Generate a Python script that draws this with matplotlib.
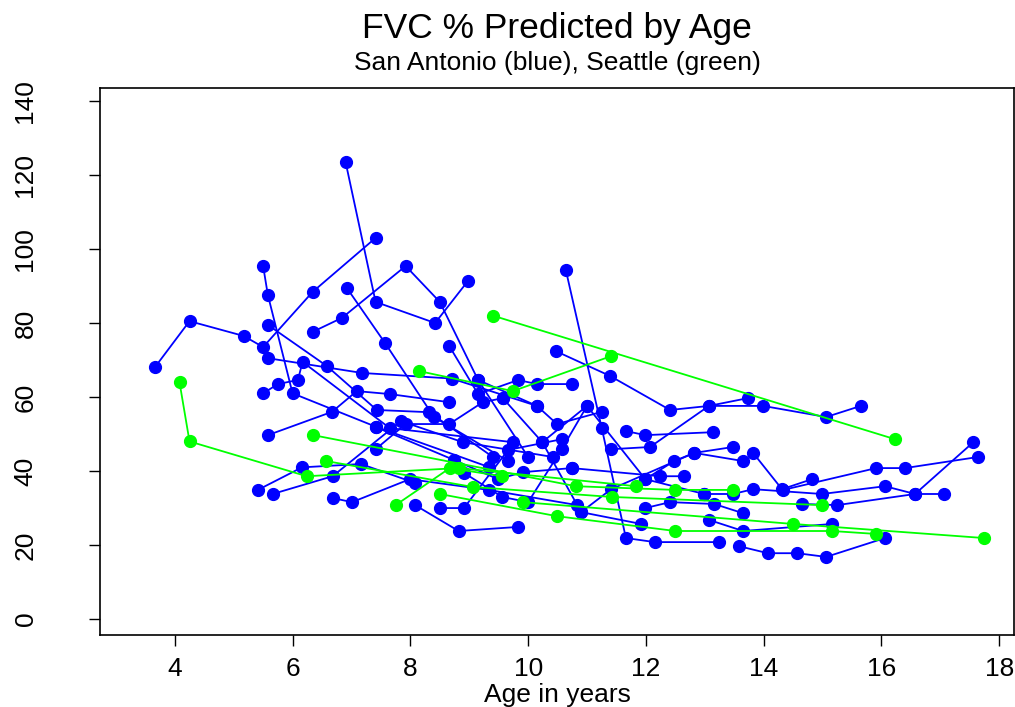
import matplotlib.pyplot as plt

# one list per child: ages and FVC % predicted at each visit
blue_ages = [
    [3.66, 4.25, 5.17, 5.5, 6.34, 7.41],
    [6.34, 6.84, 7.92, 8.5, 9.15, 10.0],
    [5.5, 5.58, 6.0, 7.41, 9.33],
    [5.58, 6.58, 7.43, 8.32, 9.4],
    [5.58, 7.18, 8.7, 10.15],
    [6.92, 7.57, 8.4, 9.66],
    [6.9, 7.41, 8.42, 8.98],
    [5.58, 6.67, 7.09, 7.65, 8.66],
    [5.5, 5.75, 6.09, 6.17, 7.65, 9.74],
    [5.41, 6.16, 7.16, 8.08],
    [5.66, 6.68, 7.84, 8.89, 10.42],
    [6.68, 7.01, 7.99, 9.33, 10.83],
    [8.08, 8.82, 9.83],
    [8.5, 8.91, 9.66, 10.57],
    [7.41, 7.92, 8.66, 9.23, 9.57],
    [7.41, 8.74, 9.49, 9.91, 10.74],
    [8.66, 9.15, 9.83, 10.15, 10.74],
    [8.91, 9.56, 10.0, 10.57, 11.0],
    [9.15, 10.15, 10.49, 11.25],
    [10.64, 11.25, 11.66, 12.15, 13.24],
    [13.58, 14.07, 14.57, 15.06, 16.06],
    [10.47, 11.39, 12.41, 13.07, 13.73],
    [11.41, 12.07, 13.07, 13.99, 15.06, 15.65],
    [10.74, 12.24, 12.65],
    [11.99, 12.48, 12.82, 13.48],
    [13.82, 14.31, 14.82],
    [14.33, 15.91, 16.4, 17.64],
    [12.99, 13.48, 13.82, 14.99, 16.06, 16.57, 17.06],
    [14.65, 15.25, 16.57, 17.56],
    [11.99, 12.41, 13.16, 13.65],
    [10.9, 11.92],
    [13.07, 13.65, 15.16],
    [11.66, 11.99, 13.14],
    [10.24, 10.9, 11.41, 12.82, 13.65],
    [9.57, 10.24, 11.0, 11.99, 12.99],
]
blue_fvc = [
    [68, 80.5, 76.5, 73.5, 88.4, 103],
    [77.6, 81.4, 95.4, 85.7, 64.6, 43.8],
    [95.4, 87.6, 61, 52, 41.1],
    [79.5, 68.4, 56.5, 55.9, 43.8],
    [70.5, 66.5, 65, 57.6],
    [89.5, 74.6, 54.6, 42.7],
    [123.5, 85.7, 80, 91.4],
    [49.7, 56, 61.6, 60.8, 58.6],
    [61, 63.5, 64.6, 69.5, 51.6, 47.8],
    [34.9, 41, 41.9, 36.8],
    [33.8, 38.6, 53.5, 47.8, 43.8],
    [32.7, 31.6, 37.8, 34.9, 30.8],
    [30.8, 23.8, 24.9],
    [30, 30, 45.7, 48.6],
    [45.9, 52.7, 52.7, 58.6, 59.7],
    [51.9, 43, 37.8, 39.7, 40.8],
    [73.8, 60.8, 64.6, 63.5, 63.5],
    [39.5, 33, 31.6, 45.9, 57.6],
    [64.6, 57.6, 52.7, 56],
    [94.3, 51.6, 21.9, 20.8, 20.8],
    [19.7, 17.8, 17.8, 16.8, 21.9],
    [72.4, 65.7, 56.5, 57.6, 59.7],
    [45.9, 46.5, 57.6, 57.6, 54.6, 57.6],
    [40.8, 38.6, 38.6],
    [37.8, 42.7, 44.9, 46.5],
    [44.9, 35.1, 37.8],
    [34.9, 40.8, 40.8, 43.8],
    [33.8, 33.8, 35.1, 33.8, 35.9, 33.8, 33.8],
    [31.1, 30.8, 33.8, 47.8],
    [30, 31.6, 31.1, 28.6],
    [28.9, 25.7],
    [26.8, 23.8, 25.7],
    [50.8, 49.7, 50.5],
    [47.8, 28.9, 35.1, 44.9, 42.7],
    [59.7, 47.8, 57.6, 37.8, 33.8],
]

green_ages = [
    [4.08, 4.25, 6.24, 8.82, 11.83],
    [6.35, 10.81, 12.5, 13.48],
    [6.57, 9.06, 11.42, 14.99],
    [7.75, 8.67, 9.56],
    [8.5, 10.49, 12.5, 15.16, 15.91],
    [8.15, 9.74, 11.4],
    [9.4, 16.23],
    [9.91, 14.5, 17.74],
]
green_fvc = [
    [64, 48, 38.6, 40.8, 35.9],
    [49.7, 35.9, 34.9, 34.9],
    [42.7, 35.7, 33, 30.8],
    [30.8, 40.8, 38.6],
    [33.8, 27.8, 23.8, 23.8, 23],
    [67, 61.6, 71],
    [82, 48.6],
    [31.6, 25.7, 21.9],
]

plt.rcParams['font.family'] = ['Liberation Sans', 'DejaVu Sans']

fig = plt.figure(figsize=(10.15, 7.07), dpi=100)
ax = fig.add_axes([100/1015, 1-635/707, 914/1015, 547/707])

for xs, ys in zip(blue_ages, blue_fvc):
    ax.plot(xs, ys, '-o', color='#0000ff', lw=1.3, ms=8.5)
for xs, ys in zip(green_ages, green_fvc):
    ax.plot(xs, ys, '-o', color='#00ff00', lw=1.3, ms=8.5)

ax.set_xlim(2.73, 18.25)
ax.set_ylim(-4.3, 143.5)
ax.set_xticks(range(4, 19, 2))
ax.set_yticks(range(0, 141, 20))
ax.tick_params(axis='x', length=8, width=1, labelsize=19, pad=8)
ax.tick_params(axis='y', length=8, width=1, labelsize=19, pad=37, labelrotation=90)
for lab in ax.get_yticklabels():
    lab.set_va('center')
for s in ax.spines.values():
    s.set_linewidth(1.2)

fig.text(0.549, 1-38/707, 'FVC % Predicted by Age', ha='center', va='baseline', fontsize=25.5)
fig.text(0.549, 1-70/707, 'San Antonio (blue), Seattle (green)', ha='center', va='baseline', fontsize=19)
fig.text(0.549, 5/707, 'Age in years', ha='center', va='baseline', fontsize=19)

fig.savefig('out.png', dpi=100)
